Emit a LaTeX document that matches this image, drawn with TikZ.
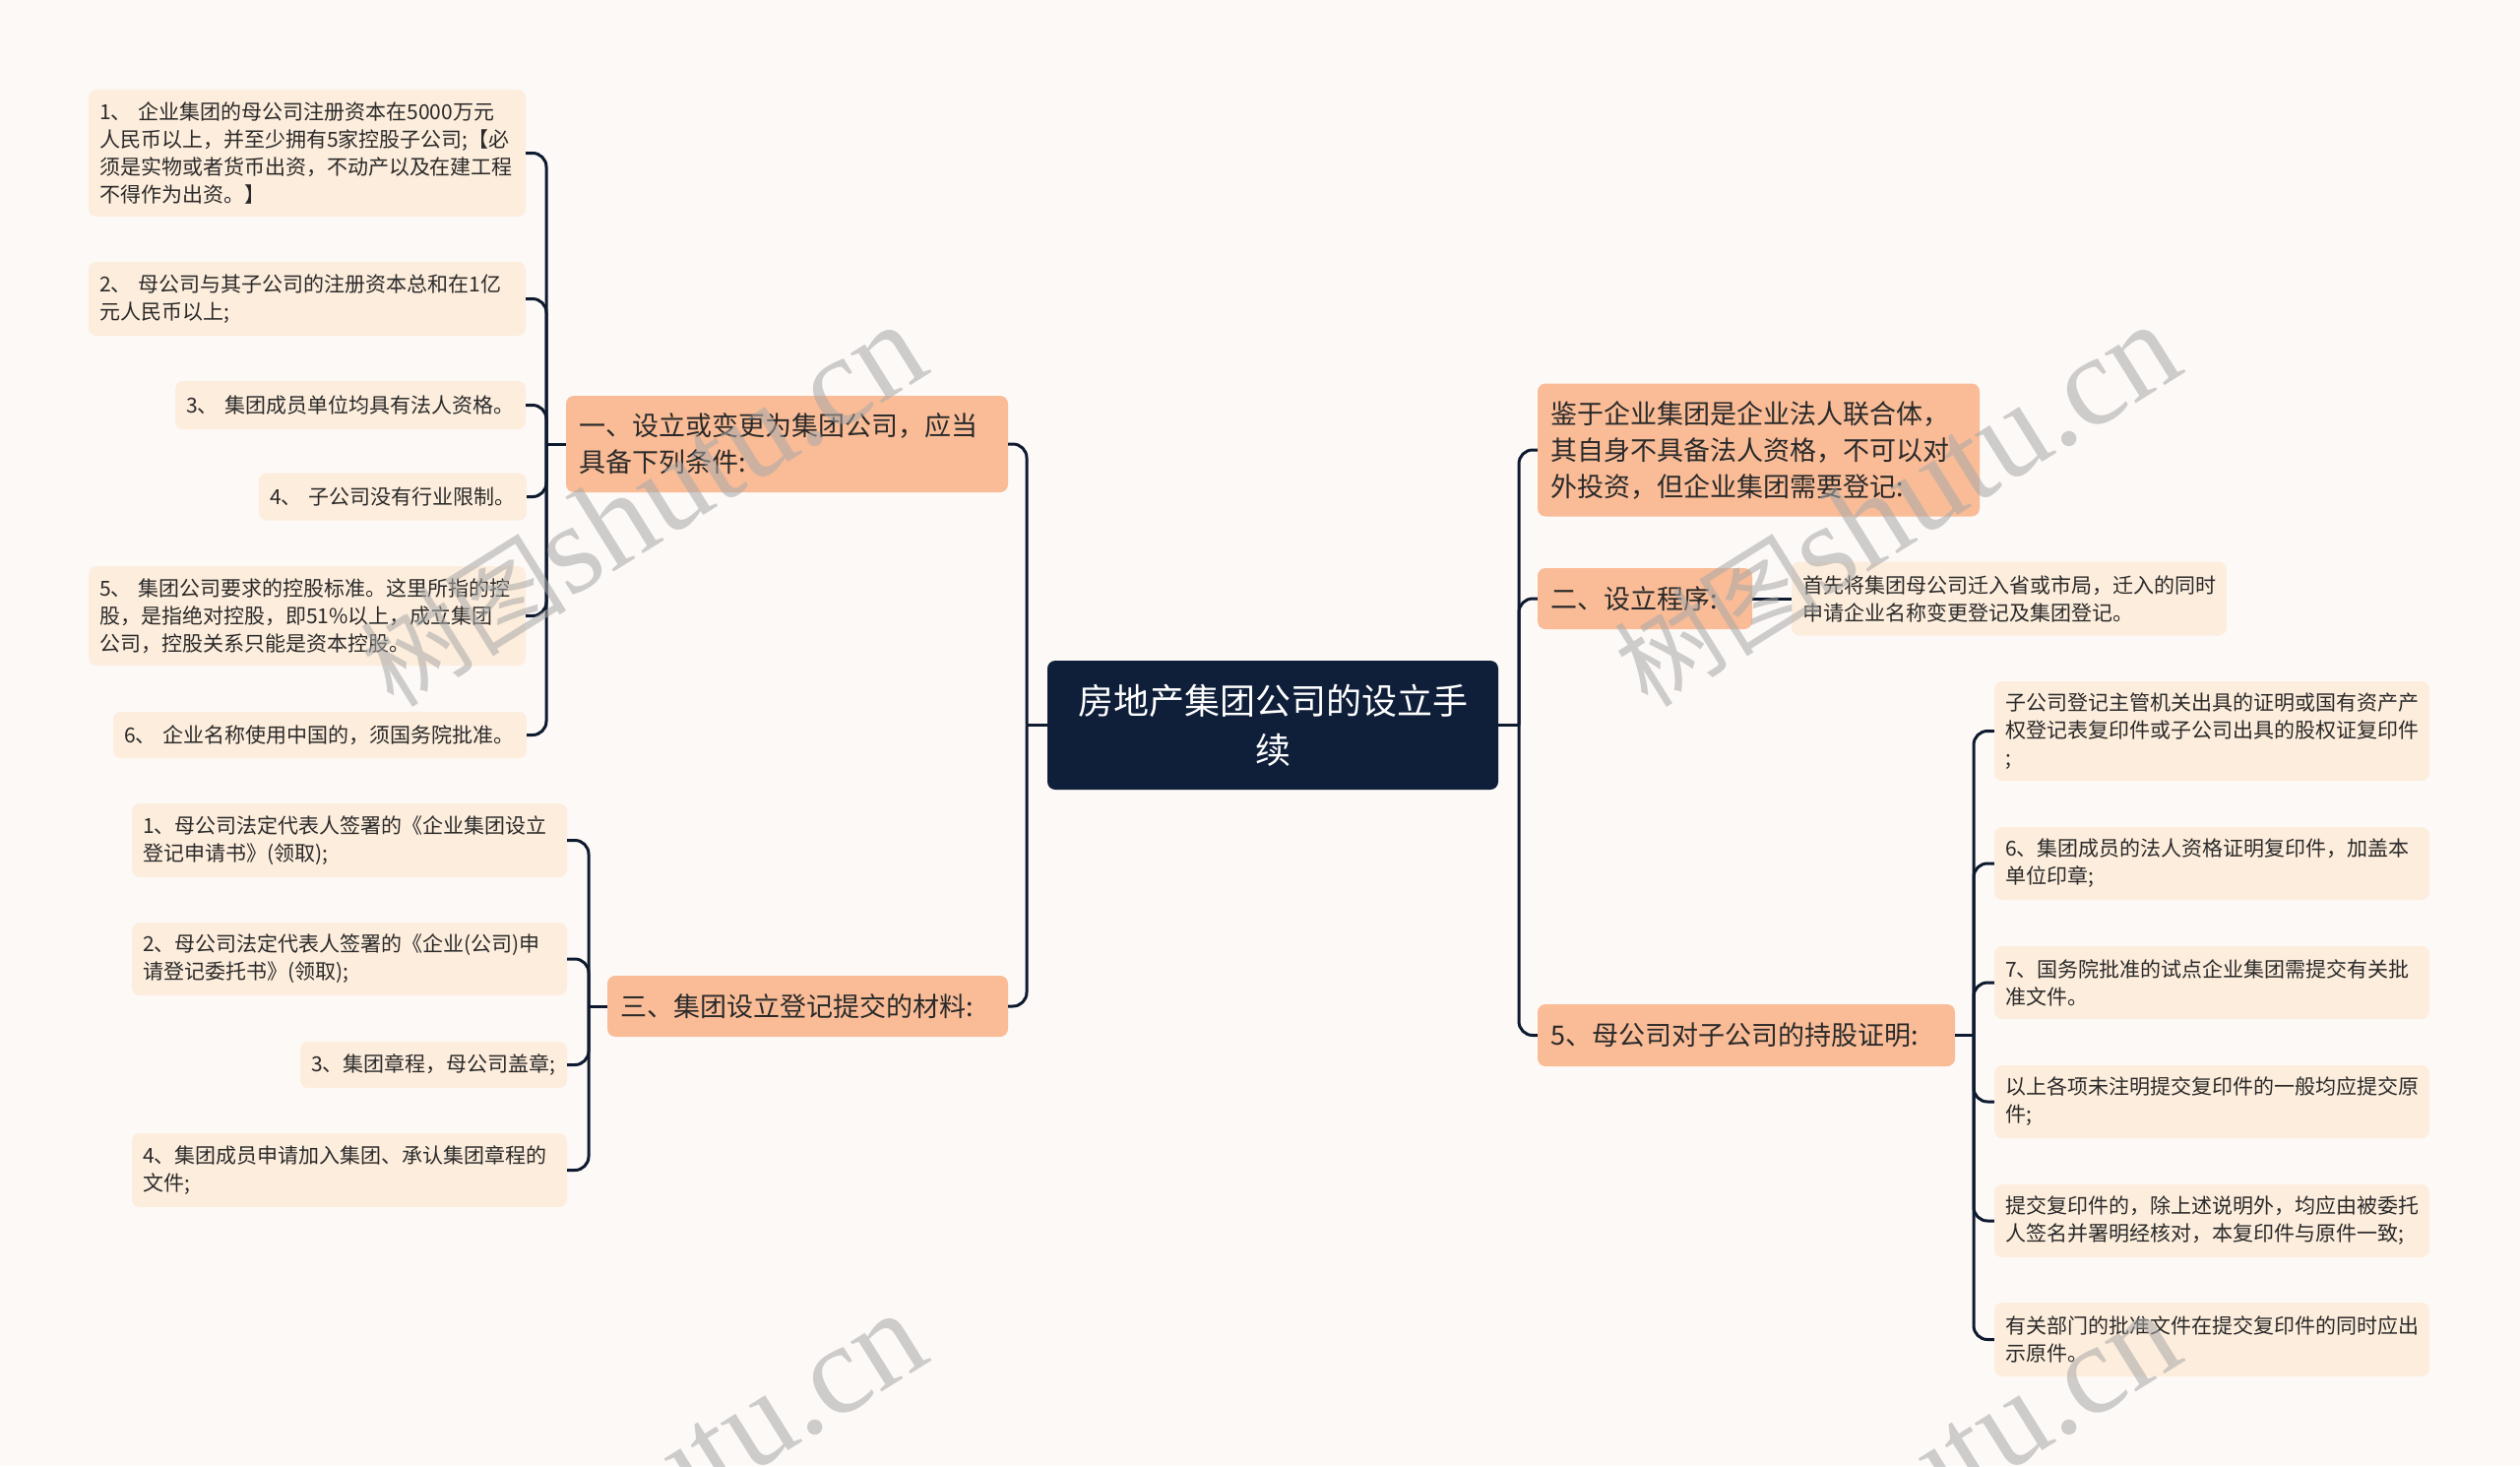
\documentclass[tikz,border=0pt]{standalone}
\usepackage{fontspec}
\setmainfont{Noto Sans CJK SC}
\newfontfamily\wmserif{Liberation Serif}
\newfontfamily\wmcjk{Noto Sans CJK SC}
\definecolor{bgc}{HTML}{FDF9F7}
\definecolor{leafc}{HTML}{FDEDDC}
\definecolor{brc}{HTML}{F9BC97}
\definecolor{rootc}{HTML}{0F1F3A}
\definecolor{linec}{HTML}{0E1A2F}
\definecolor{txtc}{HTML}{2A2A2A}
\definecolor{wmc}{HTML}{A8A8A8}
\hfuzz=20pt
\begin{document}
\begin{tikzpicture}[x=1pt,y=-1pt,
  box/.style={rounded corners=8pt, inner ysep=0pt, align=left, text=txtc},
  leaf/.style={box, fill=leafc, inner xsep=11pt, font=\fontsize{21}{28}\selectfont},
  branch/.style={box, fill=brc, inner xsep=13pt, font=\fontsize{27}{37}\selectfont},
  root/.style={box, fill=rootc, text=white, align=center, inner xsep=19pt, font=\fontsize{36}{50}\selectfont},
  link/.style={draw=linec, line width=3pt, rounded corners=14pt},
  wm/.style={text=wmc, opacity=0.55, rotate=32, inner sep=0pt}]
\fill[bgc] (0,0) rectangle (2560,1489);
\useasboundingbox (0,0) rectangle (2560,1489);

% root
\node[root, text width=420pt, minimum height=131pt] (root) at (1293,736.5) {房地产集团公司的设立手\\续};

% left branches
\node[branch, text width=423pt, minimum height=98pt] (b1) at (799.5,451) {一、设立或变更为集团公司，应当\\具备下列条件:};
\node[branch, text width=381pt, minimum height=62pt] (b3) at (820.5,1022) {三、集团设立登记提交的材料:};

% right branches
\node[branch, text width=423pt, minimum height=135pt] (ba) at (1786.5,457) {鉴于企业集团是企业法人联合体，\\其自身不具备法人资格，不可以对\\外投资，但企业集团需要登记:};
\node[branch, text width=192pt, minimum height=62pt] (bb) at (1671,608) {二、设立程序:};
\node[branch, text width=398pt, minimum height=63pt] (bc) at (1774,1051.5) {5、母公司对子公司的持股证明:};

% group 1 leaves
\node[leaf, text width=422pt, minimum height=129pt] (l1) at (312,155.5) {1、 企业集团的母公司注册资本在5000万元\\人民币以上，并至少拥有5家控股子公司;【必\\须是实物或者货币出资，不动产以及在建工程\\不得作为出资。】};
\node[leaf, text width=422pt, minimum height=75pt] (l2) at (312,303.5) {2、 母公司与其子公司的注册资本总和在1亿\\元人民币以上;};
\node[leaf, text width=334pt, minimum height=49pt] (l3) at (356,411.5) {3、 集团成员单位均具有法人资格。};
\node[leaf, text width=250pt, minimum height=48pt] (l4) at (399,504.5) {4、 子公司没有行业限制。};
\node[leaf, text width=422pt, minimum height=101pt] (l5) at (312,625.5) {5、 集团公司要求的控股标准。这里所指的控\\股，是指绝对控股，即51\%以上，成立集团\\公司，控股关系只能是资本控股。};
\node[leaf, text width=398pt, minimum height=47pt] (l6) at (325,746.5) {6、 企业名称使用中国的，须国务院批准。};

% group 3 leaves
\node[leaf, text width=420pt, minimum height=75pt] (m1) at (355,853.5) {1、母公司法定代表人签署的《企业集团设立\\登记申请书》(领取);};
\node[leaf, text width=420pt, minimum height=74pt] (m2) at (355,974) {2、母公司法定代表人签署的《企业(公司)申\\请登记委托书》(领取);};
\node[leaf, text width=249pt, minimum height=47pt] (m3) at (440.5,1081.5) {3、集团章程，母公司盖章;};
\node[leaf, text width=420pt, minimum height=75pt] (m4) at (355,1188.5) {4、集团成员申请加入集团、承认集团章程的\\文件;};

% B leaf
\node[leaf, text width=420pt, minimum height=75pt] (bl) at (2041,608) {首先将集团母公司迁入省或市局，迁入的同时\\申请企业名称变更登记及集团登记。};

% C leaves
\node[leaf, text width=420pt, minimum height=101pt] (r1) at (2247,742.5) {子公司登记主管机关出具的证明或国有资产产\\权登记表复印件或子公司出具的股权证复印件\\;};
\node[leaf, text width=420pt, minimum height=74pt] (r2) at (2247,877) {6、集团成员的法人资格证明复印件，加盖本\\单位印章;};
\node[leaf, text width=420pt, minimum height=74pt] (r3) at (2247,998) {7、国务院批准的试点企业集团需提交有关批\\准文件。};
\node[leaf, text width=420pt, minimum height=74pt] (r4) at (2247,1119) {以上各项未注明提交复印件的一般均应提交原\\件;};
\node[leaf, text width=420pt, minimum height=74pt] (r5) at (2247,1240) {提交复印件的，除上述说明外，均应由被委托\\人签名并署明经核对，本复印件与原件一致;};
\node[leaf, text width=420pt, minimum height=75pt] (r6) at (2247,1360.5) {有关部门的批准文件在提交复印件的同时应出\\示原件。};

% root connectors
\draw[link] (root.west) -- (1043,736.5);
\draw[link] (1043,736.5) |- (b1.east);
\draw[link] (1043,736.5) |- (b3.east);
\draw[link] (root.east) -- (1543,736.5);
\draw[link] (1543,736.5) |- (ba.west);
\draw[link] (1543,736.5) |- (bb.west);
\draw[link] (1543,736.5) |- (bc.west);

% group 1
\draw[link] (b1.west) -- (555,451);
\foreach \n in {l1,l2,l3,l4,l5,l6} \draw[link] (555,451) |- (\n.east);
% group 3
\draw[link] (b3.west) -- (598,1022);
\foreach \n in {m1,m2,m3,m4} \draw[link] (598,1022) |- (\n.east);
% B
\draw[link] (bb.east) -- (bl.west);
% C
\draw[link] (bc.east) -- (2005,1051.5);
\foreach \n in {r1,r2,r3,r4,r5,r6} \draw[link] (2005,1051.5) |- (\n.west);

% watermarks
\begin{scope}
\clip (0,0) rectangle (2560,1489);
\foreach \wx/\wy in {653/514, 1927/514, 653/1518, 1927/1518}
  \node[wm] (wm\wx\wy) at (\wx,\wy) {\wmcjk\fontsize{105}{105}\selectfont 树图\wmserif\fontsize{130}{130}\selectfont shutu.cn};
\end{scope}
\end{tikzpicture}
\end{document}
